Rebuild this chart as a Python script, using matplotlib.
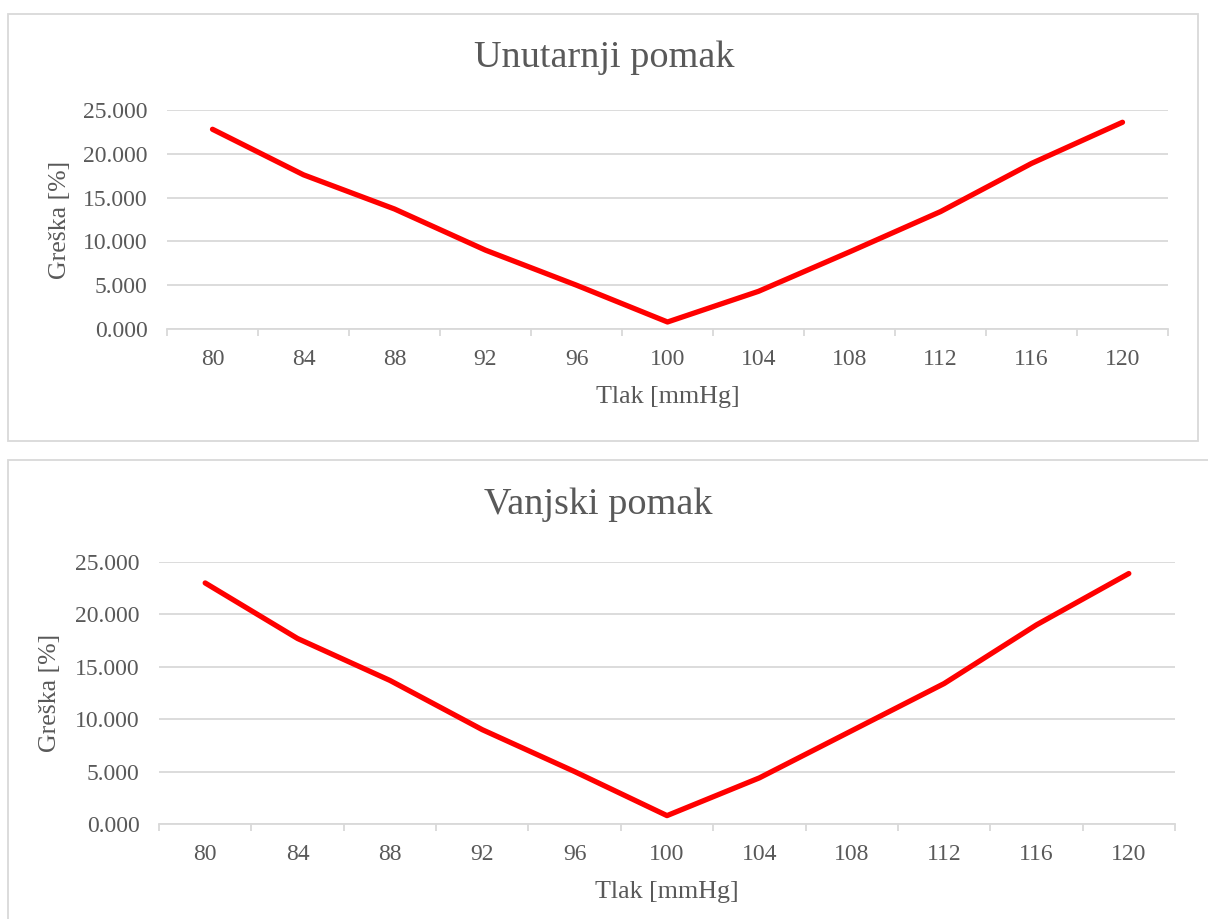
import matplotlib
matplotlib.use("Agg")
import matplotlib.pyplot as plt
from matplotlib.patches import Rectangle
from matplotlib.ticker import FixedLocator

plt.rcParams['font.family'] = ['Liberation Serif', 'DejaVu Serif']

pressure = ["80", "84", "88", "92", "96", "100", "104", "108", "112", "116", "120"]
inner_err = [22.8, 17.6, 13.7, 9.0, 5.0, 0.8, 4.3, 8.8, 13.4, 18.9, 23.6]
outer_err = [23.0, 17.7, 13.7, 9.0, 5.0, 0.8, 4.4, 8.9, 13.4, 19.0, 23.9]
titles = ["Unutarnji pomak", "Vanjski pomak"]
xlabel = "Tlak [mmHg]"
ylabel = "Greška [%]"
yticks = [0, 5, 10, 15, 20, 25]

W, H = 1208, 919
fig = plt.figure(figsize=(W / 100, H / 100), dpi=100)

TXT = "#595959"
GRID = "#d9d9d9"

# chart frames (pixel coords: x0, y0_top, x1, y1_bottom)
frames = [(8, 14, 1198, 441), (8, 460, 1220, 930)]
for (x0, y0, x1, y1) in frames:
    fig.patches.append(Rectangle((x0 / W, 1 - y1 / H), (x1 - x0) / W, (y1 - y0) / H,
                                 transform=fig.transFigure, fill=False,
                                 edgecolor=GRID, linewidth=1.3, zorder=0))

# axes: left, right, top, bottom in pixels
axes_px = [(167, 1168, 110, 329), (159, 1175, 562, 824)]
title_pos = [(604, 58), (598, 505)]
ylab_x = [60, 50]
series = [inner_err, outer_err]

for k in range(2):
    l, r, t, b = axes_px[k]
    ax = fig.add_axes([l / W, 1 - b / H, (r - l) / W, (b - t) / H])
    x = list(range(len(pressure)))
    ax.plot(x, series[k], color="#ff0000", linewidth=3.8, solid_joinstyle="round",
            solid_capstyle="round", zorder=3)
    ax.set_xlim(-0.5, len(pressure) - 0.5)
    ax.set_ylim(0, 25)
    ax.set_yticks(yticks)
    ax.set_yticklabels([f"{v:.3f}" for v in yticks])
    ax.set_xticks(x)
    ax.set_xticklabels(pressure)
    ax.xaxis.set_minor_locator(FixedLocator([i - 0.5 for i in range(len(pressure) + 1)]))
    ax.tick_params(axis="x", which="major", length=0, pad=14.5, labelsize=17, labelcolor=TXT)
    ax.tick_params(axis="x", which="minor", length=5, width=1.3, color=GRID)
    ax.tick_params(axis="y", length=0, pad=14, labelsize=17, labelcolor=TXT)
    ax.grid(axis="y", color=GRID, linewidth=1.3)
    ax.set_axisbelow(True)
    for s in ["top", "right", "left"]:
        ax.spines[s].set_visible(False)
    ax.spines["bottom"].set_color(GRID)
    ax.spines["bottom"].set_linewidth(1.3)
    ax.spines["bottom"].set_zorder(2)
    ax.set_xlabel(xlabel, fontsize=18.7, color=TXT, labelpad=11.5)
    fig.text(ylab_x[k] / W, 1 - ((t + b) / 2) / H, ylabel, rotation=90, fontsize=18.5,
             color=TXT, ha="center", va="center")
    tx, ty = title_pos[k]
    fig.text(tx / W, 1 - ty / H, titles[k], fontsize=27.5,
             color=TXT, ha="center", va="center")

fig.savefig("out.png", dpi=100)
